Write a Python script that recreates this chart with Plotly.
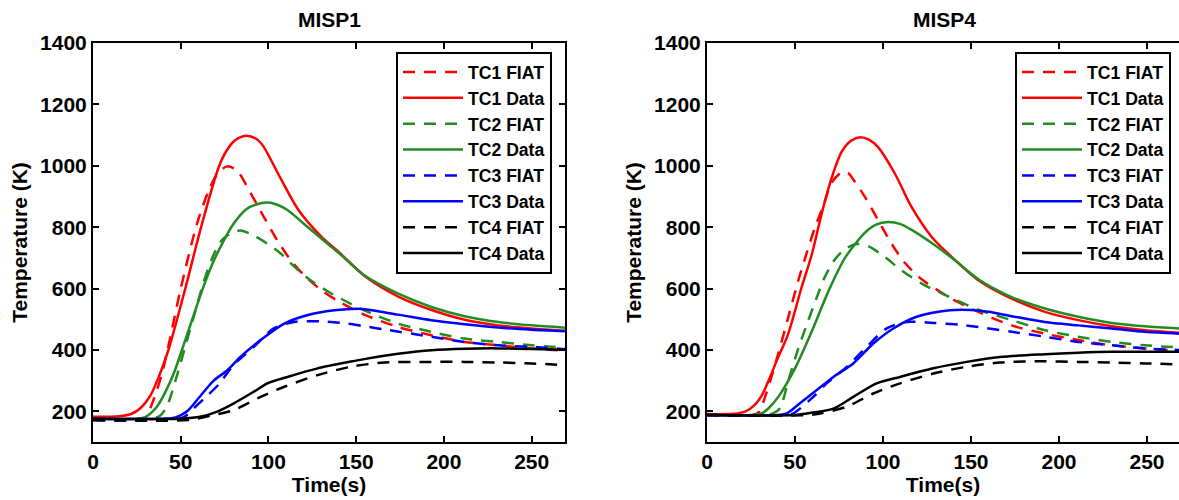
import plotly.graph_objects as go

# ---------------- MISP1 (left panel) ----------------
m1_tc1_fiat_t = [0, 25, 30, 34, 39.3, 43.7, 49.8, 59.3, 66, 71, 76.5, 82, 90, 97.4, 105, 112.7, 120, 130, 139.4, 154.6, 173.7, 192.8, 211.8, 231, 250, 270]
m1_tc1_fiat_T = [172, 172, 182, 230, 323, 432, 595, 812, 920, 975, 998, 985, 909, 833, 757, 692, 645, 595, 560, 515, 475, 448, 426, 415, 405, 397]
m1_tc1_data_t = [0, 15, 22, 27, 32.6, 38, 43, 52.6, 61.6, 71.6, 76, 81, 87, 93, 97, 107, 117, 130, 141, 155, 174, 193, 212, 231, 250, 270]
m1_tc1_data_T = [182, 184, 192, 210, 250, 320, 400, 600, 800, 995, 1048, 1083, 1098, 1088, 1064, 958, 857, 770, 714, 640, 574, 530, 498, 480, 470, 462]
m1_tc2_fiat_t = [0, 30, 38, 42, 47, 53, 58, 63, 68, 73, 78.4, 84, 91.7, 99.4, 107, 114.6, 124, 133.7, 141.3, 154.6, 173.7, 192.8, 211.8, 231, 250, 270]
m1_tc2_fiat_T = [172, 172, 185, 215, 300, 420, 520, 620, 700, 755, 780, 789, 773, 746, 714, 672, 627, 591, 567, 529, 486, 459, 437, 426, 415, 407]
m1_tc2_data_t = [0, 25, 30, 36.4, 41, 46, 52.6, 62.2, 68, 74.6, 80, 87, 93, 99.4, 105, 110.8, 122, 133.7, 141.3, 154.6, 173.7, 192.8, 211.8, 231, 250, 270]
m1_tc2_data_T = [176, 176, 182, 215, 260, 323, 432, 594, 680, 757, 810, 857, 874, 880, 873, 856, 802, 746, 710, 643, 584, 540, 510, 491, 480, 472]
m1_tc3_fiat_t = [0, 45, 52, 57.4, 65, 72, 80, 91.7, 103, 114.6, 130, 145, 154.6, 168, 192.8, 211.8, 231, 250, 270]
m1_tc3_fiat_T = [172, 172, 182, 210, 250, 290, 350, 410, 470, 491, 493, 486, 477, 465, 443, 426, 415, 410, 402]
m1_tc3_data_t = [0, 40, 47, 53.6, 61.2, 68.8, 76.4, 84, 95.5, 109, 122, 137.5, 152, 173.7, 192.8, 211.8, 231, 250, 270]
m1_tc3_data_T = [176, 176, 180, 200, 250, 300, 333, 377, 432, 486, 513, 529, 534, 515, 497, 484, 473, 466, 461]
m1_tc4_fiat_t = [0, 55, 68.8, 80.3, 95.5, 109, 128, 147, 166, 192.8, 211.8, 231, 250, 270]
m1_tc4_fiat_T = [172, 172, 188, 204, 247, 280, 318, 345, 359, 361, 361, 359, 356, 350]
m1_tc4_data_t = [0, 50, 61, 70.8, 80.3, 91.7, 99.4, 110.8, 128, 147, 154.6, 175, 192.8, 211.8, 231, 250, 270]
m1_tc4_data_T = [176, 176, 182, 199, 226, 264, 291, 312, 340, 362, 370, 388, 399, 404, 405, 403, 400]

# ---------------- MISP4 (right panel) ----------------
m4_tc1_fiat_t = [0, 26, 30, 33, 36, 40.5, 46.2, 51.9, 56.6, 61.4, 66.1, 70.8, 76.5, 80, 82.2, 89.8, 97.3, 104.9, 112.5, 122, 133.4, 139, 154.2, 173.1, 192, 211, 230, 248.9, 268.2]
m4_tc1_fiat_T = [188, 188, 200, 247, 300, 388, 507, 627, 715, 800, 870, 945, 979, 978, 963, 898, 822, 746, 683, 630, 586, 567, 524, 480, 453, 432, 415, 405, 397]
m4_tc1_data_t = [0, 15, 22, 27, 31, 35, 40, 46, 53.8, 59.5, 65.2, 70.8, 76.5, 82, 87, 92, 97.3, 106.8, 116.3, 127.7, 139, 154.2, 173.1, 192, 211, 230, 248.9, 268.2]
m4_tc1_data_T = [191, 192, 200, 220, 250, 300, 370, 450, 605, 710, 845, 960, 1045, 1082, 1093, 1085, 1060, 974, 865, 768, 703, 627, 567, 524, 497, 477, 464, 456]
m4_tc2_fiat_t = [0, 33, 38, 41.5, 46.2, 51.9, 57.6, 62.3, 67, 72.7, 78.4, 85, 91.6, 101, 110.6, 122, 133.4, 154.2, 173.1, 192, 211, 230, 248.9, 268.2]
m4_tc2_fiat_T = [188, 188, 195, 210, 300, 405, 497, 570, 638, 695, 728, 745, 738, 703, 659, 616, 584, 531, 497, 464, 443, 426, 415, 408]
m4_tc2_data_t = [0, 25, 31, 35, 40.5, 50, 59.5, 68.9, 78.4, 89.8, 96, 103, 110, 116.3, 129.5, 140.9, 154.2, 173.1, 192, 211, 230, 248.9, 268.2]
m4_tc2_data_T = [188, 188, 193, 210, 247, 340, 460, 590, 700, 782, 808, 817, 810, 791, 741, 692, 630, 572, 535, 508, 488, 477, 470]
m4_tc3_fiat_t = [0, 45, 49, 60.4, 68, 79.4, 90.7, 102.1, 113.5, 128.6, 143.8, 154.2, 173.1, 192, 211, 230, 248.9, 268.2]
m4_tc3_fiat_T = [188, 188, 193, 247, 291, 345, 410, 470, 491, 488, 482, 475, 459, 443, 426, 415, 405, 400]
m4_tc3_data_t = [0, 40, 45.3, 52.8, 62.3, 71.8, 83.1, 94.5, 105.9, 119.1, 138, 150, 160, 173.1, 192, 211, 230, 248.9, 268.2]
m4_tc3_data_T = [188, 188, 193, 226, 269, 312, 356, 421, 470, 508, 529, 530, 524, 510, 491, 480, 470, 459, 453]
m4_tc4_fiat_t = [0, 58, 64.2, 79.4, 94.5, 109.7, 128.6, 147.5, 166.5, 192, 211, 230, 248.9, 268.2]
m4_tc4_fiat_T = [188, 188, 193, 215, 258, 291, 323, 345, 359, 363, 361, 359, 356, 353]
m4_tc4_data_t = [0, 50, 56.6, 71.8, 83.1, 96.4, 109.7, 128.6, 147.5, 166.5, 192, 211, 230, 248.9, 268.2]
m4_tc4_data_T = [188, 188, 193, 209, 247, 291, 312, 340, 361, 377, 386, 391, 394, 394, 394]

series_names = ["TC1 FIAT", "TC1 Data", "TC2 FIAT", "TC2 Data", "TC3 FIAT", "TC3 Data", "TC4 FIAT", "TC4 Data"]
series_colors = ["#FF0000", "#FF0000", "#228B22", "#228B22", "#0000FF", "#0000FF", "#000000", "#000000"]
series_dash = ["12px,9px", "solid"] * 4

x_ticks = [0, 50, 100, 150, 200, 250]
y_ticks = [200, 400, 600, 800, 1000, 1200, 1400]

panel1 = [(m1_tc1_fiat_t, m1_tc1_fiat_T), (m1_tc1_data_t, m1_tc1_data_T),
          (m1_tc2_fiat_t, m1_tc2_fiat_T), (m1_tc2_data_t, m1_tc2_data_T),
          (m1_tc3_fiat_t, m1_tc3_fiat_T), (m1_tc3_data_t, m1_tc3_data_T),
          (m1_tc4_fiat_t, m1_tc4_fiat_T), (m1_tc4_data_t, m1_tc4_data_T)]
panel4 = [(m4_tc1_fiat_t, m4_tc1_fiat_T), (m4_tc1_data_t, m4_tc1_data_T),
          (m4_tc2_fiat_t, m4_tc2_fiat_T), (m4_tc2_data_t, m4_tc2_data_T),
          (m4_tc3_fiat_t, m4_tc3_fiat_T), (m4_tc3_data_t, m4_tc3_data_T),
          (m4_tc4_fiat_t, m4_tc4_fiat_T), (m4_tc4_data_t, m4_tc4_data_T)]

FONT = "Liberation Sans, Arial, sans-serif"
fig = go.Figure()

for panel, xa, ya, leg in [(panel1, "x", "y", "legend"), (panel4, "x2", "y2", "legend2")]:
    for (t, T), name, col, dash in zip(panel, series_names, series_colors, series_dash):
        fig.add_trace(go.Scatter(
            x=t, y=T, name=name, mode="lines", xaxis=xa, yaxis=ya, legend=leg,
            line=dict(color=col, width=2.5, dash=dash, shape="spline", smoothing=0.8),
        ))

axis_common = dict(
    showline=True, linecolor="black", linewidth=2,
    ticks="inside", ticklen=6, tickwidth=2, tickcolor="black",
    showgrid=False, zeroline=False, automargin=False,
    tickfont=dict(family=FONT, size=21, color="black", weight="bold"),
)
title_font = dict(family=FONT, size=21, color="black", weight="bold")

xd1 = [93 / 1179, 565 / 1179]
xd2 = [707 / 1179, 1.0]
yd = [1 - 442 / 500, 1 - 43 / 500]

fig.update_layout(
    width=1179, height=500,
    margin=dict(l=0, r=0, t=0, b=0, pad=0, autoexpand=False),
    paper_bgcolor="white", plot_bgcolor="white",
    font=dict(family=FONT, color="black", weight="bold"),
    showlegend=True,
    xaxis=dict(domain=xd1, range=[0, 269], tickvals=x_ticks, mirror="allticks", anchor="y",
               title=dict(text="Time(s)", font=title_font, standoff=3), **axis_common),
    yaxis=dict(domain=yd, range=[100, 1400], tickvals=y_ticks, mirror="allticks", anchor="x",
               title=dict(text="Temperature (K)", font=title_font, standoff=7), **axis_common),
    xaxis2=dict(domain=xd2, range=[0, 268.2], tickvals=x_ticks, mirror="allticks", anchor="y2",
                title=dict(text="Time(s)", font=title_font, standoff=3), **axis_common),
    yaxis2=dict(domain=yd, range=[100, 1400], tickvals=y_ticks, mirror=False, anchor="x2",
                title=dict(text="Temperature (K)", font=title_font, standoff=7), **axis_common),
    yaxis3=dict(overlaying="y2", side="right", anchor="free", position=1.0, automargin=False,
                range=[100, 1400], tickvals=y_ticks, showticklabels=False, showline=False,
                ticks="inside", ticklen=6, tickwidth=2, tickcolor="black",
                showgrid=False, zeroline=False),
    legend=dict(x=552 / 1179, xanchor="right", y=1 - 52 / 500, yanchor="top",
                bgcolor="white", bordercolor="black", borderwidth=2, itemwidth=60,
                font=dict(family=FONT, size=17.6, color="black", weight="bold")),
    legend2=dict(x=1171 / 1179, xanchor="right", y=1 - 52 / 500, yanchor="top",
                 bgcolor="white", bordercolor="black", borderwidth=2, itemwidth=60,
                 font=dict(family=FONT, size=17.6, color="black", weight="bold")),
    annotations=[
        dict(text="MISP1", x=329 / 1179, y=1 - 19 / 500, xref="paper", yref="paper",
             xanchor="center", yanchor="middle", showarrow=False, font=title_font),
        dict(text="MISP4", x=944 / 1179, y=1 - 19 / 500, xref="paper", yref="paper",
             xanchor="center", yanchor="middle", showarrow=False, font=title_font),
    ],
)

fig.write_html("out.html")
